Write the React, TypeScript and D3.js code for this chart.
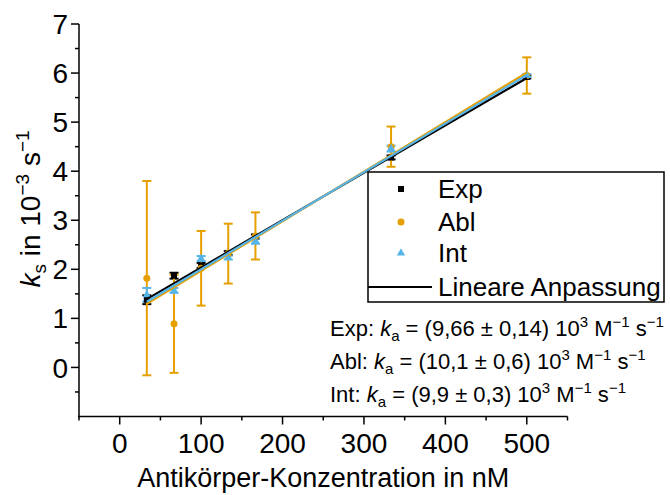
import React from "react";
import * as d3 from "d3";

const conc = [33.3, 66.7, 100, 133.3, 166.7, 333.3, 500];
const expVals = [1.38, 1.87, 2.08, 2.33, 2.67, 4.28, 5.92];
const expErr = [0.09, 0.06, 0.05, 0.04, 0.04, 0.04, 0.03];
const ablVals = [1.82, 0.89, 2.02, 2.32, 2.68, 4.5, 5.95];
const ablErr = [1.98, 1.0, 0.76, 0.61, 0.48, 0.41, 0.37];
const intVals = [1.48, 1.57, 2.22, 2.24, 2.58, 4.46, 5.95];
const intErr = [0.14, 0.05, 0.05, 0.04, 0.06, 0.06, 0.03];

const fitSlopes = [0.00966, 0.0101, 0.0099];
const fitIntercepts = [1.07, 0.96, 1.01];

const xTicks = [0, 100, 200, 300, 400, 500];
const xMinor = [-50, 50, 150, 250, 350, 450, 550];
const yTicks = [0, 1, 2, 3, 4, 5, 6, 7];
const yMinor = [-0.5, 0.5, 1.5, 2.5, 3.5, 4.5, 5.5, 6.5];

const legendLabels = ["Exp", "Abl", "Int", "Lineare Anpassung"];
const annLabels = ["Exp", "Abl", "Int"];
const annValues = ["(9,66 ± 0,14)", "(10,1 ± 0,6)", "(9,9 ± 0,3)"];

const BLACK = "#000000";
const ORANGE = "#E69F00";
const BLUE = "#56B4E9";
const FONT = "'Liberation Sans', Arial, sans-serif";

export default function App() {
  const x = d3.scaleLinear().domain([-50, 550]).range([79, 567.5]);
  const y = d3.scaleLinear().domain([-1, 7]).range([416.5, 24]);
  const axisY = y(-1);
  const axisX = x(-50);

  const series = [
    { vals: expVals, err: expErr, color: BLACK, shape: "square" },
    { vals: ablVals, err: ablErr, color: ORANGE, shape: "circle" },
    { vals: intVals, err: intErr, color: BLUE, shape: "triangle" },
  ];
  const fitColors = [BLACK, ORANGE, BLUE];

  const marker = (shape: string, cx: number, cy: number, color: string, key: any) => {
    if (shape === "square")
      return <rect key={key} x={cx - 3} y={cy - 3} width={6} height={6} fill={color} />;
    if (shape === "circle") return <circle key={key} cx={cx} cy={cy} r={3.5} fill={color} />;
    const sym = d3.symbol().type(d3.symbolTriangle).size(30)();
    return <path key={key} d={sym || ""} transform={`translate(${cx},${cy})`} fill={color} />;
  };

  const line = d3.line<number>().x((d) => x(d[0])).y((d) => y(d[1]));

  const legX = 368, legY = 172, legW = 296, legH = 130;
  const legRows = [198, 231, 262, 296];

  return (
    <svg width={670} height={495} style={{ position: "absolute", left: 0, top: 0, background: "#fff" }} fontFamily={FONT}>
      <rect width={670} height={495} fill="#fff" />
      {/* error bars */}
      {series.map((s, si) =>
        conc.map((c, i) => {
          const cx = x(c);
          const y1 = y(s.vals[i] + s.err[i]);
          const y2 = y(s.vals[i] - s.err[i]);
          return (
            <g key={`e${si}-${i}`} stroke={s.color} strokeWidth={2}>
              <line x1={cx} x2={cx} y1={y1} y2={y2} />
              <line x1={cx - 4.5} x2={cx + 4.5} y1={y1} y2={y1} />
              <line x1={cx - 4.5} x2={cx + 4.5} y1={y2} y2={y2} />
            </g>
          );
        })
      )}
      {/* points */}
      {series.map((s, si) => conc.map((c, i) => marker(s.shape, x(c), y(s.vals[i]), s.color, `p${si}-${i}`)))}
      {/* fit lines */}
      {fitSlopes.map((m, k) => {
        const pts = [conc[0], conc[conc.length - 1]].map((c) => [c, fitIntercepts[k] + m * c]) as any;
        return <path key={`f${k}`} d={line(pts) || ""} stroke={fitColors[k]} strokeWidth={2.2} fill="none" />;
      })}
      {/* axes */}
      <g stroke="#000" strokeWidth={1.5}>
        <line x1={axisX} x2={axisX} y1={y(7)} y2={axisY + 0.75} />
        <line x1={axisX - 0.75} x2={x(550)} y1={axisY} y2={axisY} />
        {yTicks.map((t) => <line key={`yt${t}`} x1={axisX - 8} x2={axisX} y1={y(t)} y2={y(t)} />)}
        {yMinor.map((t) => <line key={`ym${t}`} x1={axisX - 4} x2={axisX} y1={y(t)} y2={y(t)} />)}
        {xTicks.map((t) => <line key={`xt${t}`} x1={x(t)} x2={x(t)} y1={axisY} y2={axisY + 8} />)}
        {xMinor.map((t) => <line key={`xm${t}`} x1={x(t)} x2={x(t)} y1={axisY} y2={axisY + 4} />)}
      </g>
      {yTicks.map((t) => (
        <text key={`yl${t}`} x={axisX - 11} y={y(t)} dy="0.36em" textAnchor="end" fontSize={28} fill="#000">
          {t}
        </text>
      ))}
      {xTicks.map((t) => (
        <text key={`xl${t}`} x={x(t)} y={axisY + 36} textAnchor="middle" fontSize={28} fill="#000">
          {t}
        </text>
      ))}
      <text x={(x(-50) + x(550)) / 2} y={487} textAnchor="middle" fontSize={27} fill="#000">
        Antikörper-Konzentration in nM
      </text>
      <text transform={`translate(40,209) rotate(-90)`} textAnchor="middle" fontSize={28} fill="#000">
        <tspan fontStyle="italic">k</tspan>
        <tspan fontSize={19} dy={6}>s</tspan>
        <tspan dy={-6}> in 10</tspan>
        <tspan fontSize={19} dy={-11}>−3</tspan>
        <tspan dy={11}> s</tspan>
        <tspan fontSize={19} dy={-11}>−1</tspan>
      </text>
      {/* legend */}
      <rect x={legX} y={legY} width={legW} height={legH} fill="#fff" stroke="#000" strokeWidth={1.5} />
      {series.map((s, i) => marker(s.shape, 401, legRows[i] - 9, s.color, `lm${i}`))}
      <line x1={legX} x2={432} y1={legRows[3] - 9} y2={legRows[3] - 9} stroke="#000" strokeWidth={2} />
      {legendLabels.map((l, i) => (
        <text key={`lt${i}`} x={438} y={legRows[i]} fontSize={26} fill="#000">
          {l}
        </text>
      ))}
      {/* annotations */}
      {annLabels.map((l, i) => (
        <text key={`an${i}`} x={330} y={336 + i * 33} fontSize={22} fill="#000">
          {l}: <tspan fontStyle="italic">k</tspan>
          <tspan fontSize={15} dy={5}>a</tspan>
          <tspan dy={-5}> = {annValues[i]} 10</tspan>
          <tspan fontSize={15} dy={-9}>3</tspan>
          <tspan dy={9}> M</tspan>
          <tspan fontSize={15} dy={-9}>−1</tspan>
          <tspan dy={9}> s</tspan>
          <tspan fontSize={15} dy={-9}>−1</tspan>
        </text>
      ))}
    </svg>
  );
}
